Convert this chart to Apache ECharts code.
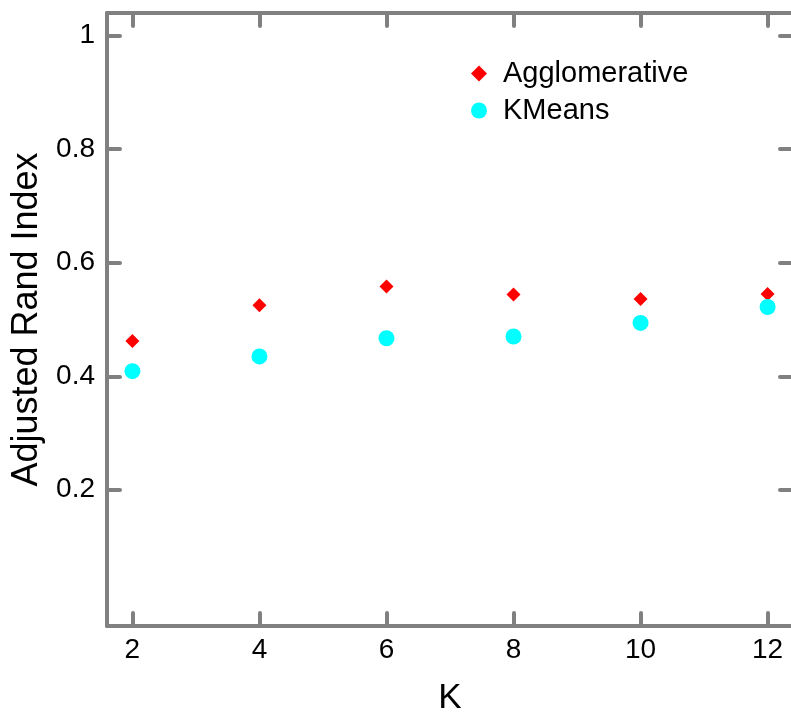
<!DOCTYPE html>
<html>
<head>
<meta charset="utf-8">
<script src="https://cdn.jsdelivr.net/npm/echarts@6/dist/echarts.min.js"></script>
<style>html,body{margin:0;padding:0;background:#fff}#c{width:791px;height:713px}</style>
</head>
<body>
<div id="c"></div>
<script>
const kValues = [2, 4, 6, 8, 10, 12];
const agglomerative = [0.462, 0.525, 0.558, 0.544, 0.536, 0.545];
const kmeans = [0.409, 0.435, 0.467, 0.470, 0.494, 0.522];
const xTicks = [2, 4, 6, 8, 10, 12];
const yTicks = [0.2, 0.4, 0.6, 0.8, 1];

const FONT = 'Liberation Sans, Arial, sans-serif';
const AX = '#808080';
const chart = echarts.init(document.getElementById('c'));
const lineStyle = {color: AX, width: 4, cap: 'round'};
const tickStyle = {color: AX, width: 4, cap: 'round'};
chart.setOption({
  animation: false,
  grid: {left: 107, top: 13, bottom: 87, width: 686, containLabel: false, outerBoundsMode: 'none'},
  legend: {
    orient: 'vertical', left: 466, top: 54, itemGap: 8,
    itemWidth: 16, itemHeight: 16,
    textStyle: {fontFamily: FONT, fontSize: 29, color: '#000', padding: [0, 0, 0, 11]},
    data: [{name: 'Agglomerative', icon: 'diamond'}, {name: 'KMeans', icon: 'circle'}]
  },
  xAxis: [{
    type: 'value', min: 1.6, max: 12.4, position: 'bottom',
    name: 'K', nameLocation: 'middle', nameGap: 55,
    nameTextStyle: {fontFamily: FONT, fontSize: 35, color: '#000'},
    axisLine: {onZero: false, lineStyle: lineStyle},
    axisTick: {inside: true, length: 13, lineStyle: tickStyle, customValues: xTicks},
    axisLabel: {fontFamily: FONT, fontSize: 28, color: '#000', margin: 10, customValues: xTicks},
    splitLine: {show: false}
  }, {
    type: 'value', min: 1.6, max: 12.4, position: 'top',
    axisLine: {onZero: false, lineStyle: lineStyle},
    axisTick: {inside: true, length: 13, lineStyle: tickStyle, customValues: xTicks},
    axisLabel: {show: false},
    splitLine: {show: false}
  }],
  yAxis: [{
    type: 'value', min: -0.04, max: 1.04, position: 'left',
    name: 'Adjusted Rand Index', nameLocation: 'middle', nameGap: 62,
    nameTextStyle: {fontFamily: FONT, fontSize: 36, color: '#000'},
    axisLine: {onZero: false, lineStyle: lineStyle},
    axisTick: {inside: true, length: 13, lineStyle: tickStyle, customValues: yTicks},
    axisLabel: {fontFamily: FONT, fontSize: 28, color: '#000', margin: 12, customValues: yTicks},
    splitLine: {show: false}
  }, {
    type: 'value', min: -0.04, max: 1.04, position: 'right',
    axisLine: {onZero: false, lineStyle: lineStyle},
    axisTick: {inside: true, length: 13, lineStyle: tickStyle, customValues: yTicks},
    axisLabel: {show: false},
    splitLine: {show: false}
  }],
  series: [{
    name: 'Agglomerative', type: 'scatter', symbol: 'diamond', symbolSize: 14,
    itemStyle: {color: '#ff0000', opacity: 1},
    data: kValues.map((k, i) => [k, agglomerative[i]])
  }, {
    name: 'KMeans', type: 'scatter', symbol: 'circle', symbolSize: 16,
    itemStyle: {color: '#00ffff', opacity: 1},
    data: kValues.map((k, i) => [k, kmeans[i]])
  }]
});
</script>
</body>
</html>
